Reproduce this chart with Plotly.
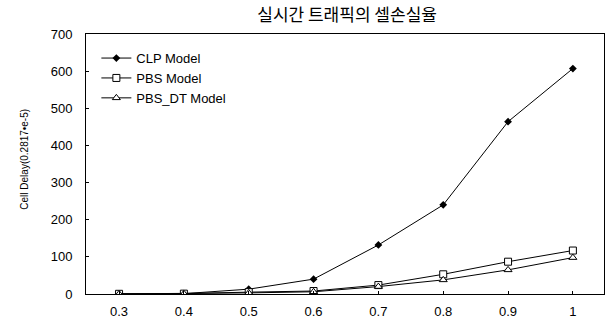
import plotly.graph_objects as go

x_vals = [0.3, 0.4, 0.5, 0.6, 0.7, 0.8, 0.9, 1.0]
x_labels = ["0.3", "0.4", "0.5", "0.6", "0.7", "0.8", "0.9", "1"]
clp = [0.5, 1, 13, 40, 132, 240, 464, 607]
pbs = [0.5, 1, 5, 8, 24, 53, 87, 117]
pbs_dt = [0.3, 0.8, 3, 6, 20, 38, 65, 98]
y_ticks = [0, 100, 200, 300, 400, 500, 600, 700]

fig = go.Figure()
fig.add_trace(go.Scatter(x=x_vals, y=clp, name="CLP Model", mode="lines+markers",
                         line=dict(color="black", width=1),
                         marker=dict(symbol="diamond", size=6, color="black")))
fig.add_trace(go.Scatter(x=x_vals, y=pbs, name="PBS Model", mode="lines+markers",
                         line=dict(color="black", width=1),
                         marker=dict(symbol="square", size=7, color="white",
                                     line=dict(color="black", width=1))))
fig.add_trace(go.Scatter(x=x_vals, y=pbs_dt, name="PBS_DT Model", mode="lines+markers",
                         line=dict(color="black", width=1),
                         marker=dict(symbol="triangle-up", size=7, color="white",
                                     line=dict(color="black", width=1))))

fig.update_layout(
    width=610, height=321,
    margin=dict(l=86, r=6, t=34, b=27, autoexpand=False),
    paper_bgcolor="white", plot_bgcolor="white",
    font=dict(family="Arial, Liberation Sans, sans-serif", size=13, color="black"),
    title=dict(text="실시간 트래픽의 셀손실율", x=0.569, xanchor="center", y=0.953, yanchor="middle",
               font=dict(family="Noto Sans CJK KR", size=17, color="black")),
    showlegend=True,
    legend=dict(x=0.02, y=0.965, xanchor="left", yanchor="top", bgcolor="rgba(0,0,0,0)",
                font=dict(size=13), tracegroupgap=0, itemwidth=30),
    xaxis=dict(range=[0.249, 1.048], tickvals=x_vals, ticktext=x_labels, automargin=False,
               showgrid=False, zeroline=False, showline=True, linecolor="black", linewidth=1,
               mirror=True, ticks="inside", ticklen=3, tickcolor="black",
               ticklabelstandoff=5),
    yaxis=dict(range=[0, 700], tickvals=y_ticks, automargin=False,
               showgrid=False, zeroline=False, showline=True, linecolor="black", linewidth=1,
               mirror=True, ticks="inside", ticklen=3, tickcolor="black",
               ticklabelstandoff=10),
    annotations=[dict(text="Cell Delay(0.2817•e-5)", xref="paper", yref="paper",
                      x=-0.118, y=0.52, xanchor="center", yanchor="middle", textangle=-90,
                      showarrow=False, font=dict(size=10))],
)

fig.write_html("out.html", config={"displayModeBar": False},
               post_script="document.body.style.margin='0';document.body.style.overflow='hidden';")
